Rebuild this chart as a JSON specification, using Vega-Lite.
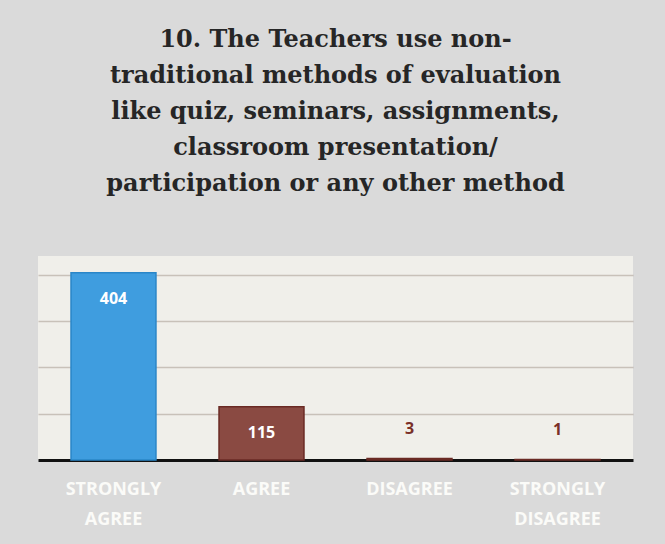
{
  "$schema": "https://vega.github.io/schema/vega-lite/v6.json",
  "autosize": {"type": "none"},
  "width": 595,
  "height": 204,
  "padding": {"left": 38, "top": 256, "right": 32, "bottom": 84},
  "background": "#dadada",
  "title": {
    "text": ["10. The Teachers use non-", "traditional methods of evaluation", "like quiz, seminars, assignments,", "classroom presentation/", "participation or any other method"],
    "font": "DejaVu Serif",
    "fontSize": 24,
    "fontWeight": "bold",
    "color": "#262626",
    "lineHeight": 36,
    "anchor": "middle",
    "offset": 60
  },
  "config": {
    "view": {"fill": "#f0efea", "stroke": null}
  },
  "data": {
    "values": [
      {"response": "STRONGLY AGREE", "count": 404},
      {"response": "AGREE", "count": 115},
      {"response": "DISAGREE", "count": 3},
      {"response": "STRONGLY DISAGREE", "count": 1}
    ]
  },
  "encoding": {
    "x": {
      "field": "response",
      "type": "nominal",
      "sort": null,
      "scale": {"paddingInner": 0.426, "paddingOuter": 0.223},
      "axis": {
        "title": null,
        "labelAngle": 0,
        "labelExpr": "split(datum.label, ' ')",
        "labelFont": "Open Sans",
        "labelFontWeight": "bold",
        "labelFontSize": 18,
        "labelColor": "#fbfbf8",
        "labelLineHeight": 30,
        "labelPadding": 20,
        "ticks": false,
        "domainColor": "#111111",
        "domainWidth": 3
      }
    },
    "y": {
      "field": "count",
      "type": "quantitative",
      "scale": {"domain": [0, 440], "nice": false},
      "axis": {
        "title": null,
        "labels": false,
        "ticks": false,
        "domain": false,
        "values": [100, 200, 300, 400],
        "gridColor": "#a89a90",
        "gridOpacity": 0.55,
        "gridWidth": 1.5
      }
    }
  },
  "layer": [
    {
      "mark": {"type": "bar", "strokeWidth": 1.5},
      "encoding": {
        "color": {
          "field": "response",
          "type": "nominal",
          "scale": {"domain": ["STRONGLY AGREE", "AGREE", "DISAGREE", "STRONGLY DISAGREE"], "range": ["#3f9ddf", "#8a4a42", "#8a4a42", "#8a4a42"]},
          "legend": null
        },
        "stroke": {
          "field": "response",
          "type": "nominal",
          "scale": {"domain": ["STRONGLY AGREE", "AGREE", "DISAGREE", "STRONGLY DISAGREE"], "range": ["#2a86c8", "#6a2a24", "#6a2a24", "#6a2a24"]},
          "legend": null
        }
      }
    },
    {
      "transform": [{"filter": "datum.count > 50"}],
      "mark": {"type": "text", "dy": 26, "font": "Open Sans", "fontWeight": "bold", "fontSize": 16, "color": "#ffffff"},
      "encoding": {"text": {"field": "count", "type": "quantitative"}}
    },
    {
      "transform": [{"filter": "datum.count <= 50"}],
      "mark": {"type": "text", "dy": -30, "font": "Open Sans", "fontWeight": "bold", "fontSize": 16, "color": "#7a3028"},
      "encoding": {"text": {"field": "count", "type": "quantitative"}}
    }
  ]
}
